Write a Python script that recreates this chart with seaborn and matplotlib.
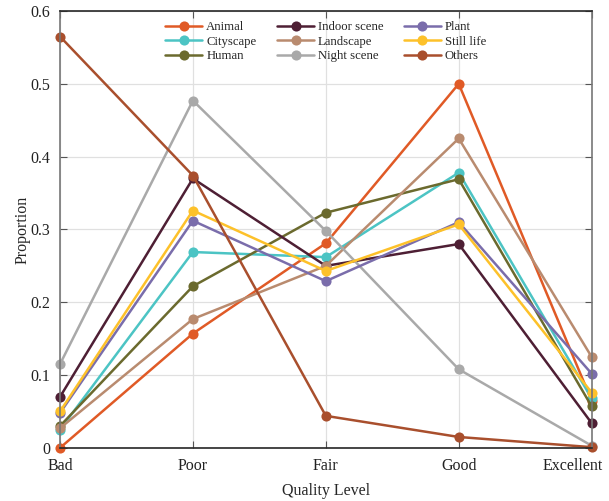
import numpy as np
import pandas as pd
import matplotlib
matplotlib.use("Agg")
import matplotlib.pyplot as plt
import matplotlib.transforms as mtransforms
import seaborn as sns

levels = ["Bad", "Poor", "Fair", "Good", "Excellent"]
categories = ["Animal", "Cityscape", "Human", "Indoor scene", "Landscape",
              "Night scene", "Plant", "Still life", "Others"]
animal    = [0.000, 0.157, 0.281, 0.500, 0.065]
cityscape = [0.025, 0.269, 0.262, 0.378, 0.068]
human     = [0.030, 0.222, 0.323, 0.369, 0.057]
indoor    = [0.070, 0.370, 0.250, 0.280, 0.034]
landscape = [0.027, 0.177, 0.250, 0.425, 0.125]
night     = [0.115, 0.477, 0.298, 0.108, 0.003]
plant     = [0.048, 0.312, 0.229, 0.310, 0.102]
still     = [0.050, 0.326, 0.243, 0.307, 0.076]
others    = [0.565, 0.374, 0.044, 0.015, 0.001]
series = [animal, cityscape, human, indoor, landscape, night, plant, still, others]
colors = ["#E05A26", "#4CC4C4", "#6B6A2E", "#4E1F34", "#B98B6F",
          "#A9A9A9", "#7A6DAB", "#FDC12A", "#A94F2D"]
yticks = [0, 0.1, 0.2, 0.3, 0.4, 0.5, 0.6]
ytick_labels = ["0", "0.1", "0.2", "0.3", "0.4", "0.5", "0.6"]

rows = []
for cat, vals in zip(categories, series):
    for i, (lv, v) in enumerate(zip(levels, vals)):
        rows.append({"Category": cat, "pos": i, "Proportion": v})
df = pd.DataFrame(rows)

sns.set_theme(style="white")
plt.rcParams["font.family"] = ["Liberation Serif", "DejaVu Serif"]

fig = plt.figure(figsize=(6.09, 5.01), dpi=100)
ax = fig.add_axes([0.0985, 0.106, 0.873, 0.872])

ax.grid(True, color="#e0e0e0", linewidth=0.9, zorder=0)
ax.set_axisbelow(True)

sns.lineplot(data=df, x="pos", y="Proportion", hue="Category",
             hue_order=categories, palette=colors, marker="o",
             markersize=7.3, markeredgewidth=0, linewidth=1.8,
             ax=ax, legend=True, zorder=3)

ax.set_xlim(0, 4)
ax.set_ylim(0, 0.6)
ax.set_xticks(range(len(levels)))
ax.set_xticklabels(levels, fontsize=11.5)
ax.set_yticks(yticks)
ax.set_yticklabels(ytick_labels, fontsize=11.5)
ax.set_xlabel("Quality Level", fontsize=11.5, labelpad=7)
ax.set_ylabel("Proportion", fontsize=11.5, labelpad=0)
ax.tick_params(direction="in", length=5, width=0.8, top=True, right=True,
               bottom=True, left=True, colors="#555555", labelcolor="#222222")
ax.tick_params(axis="x", pad=7)
ax.tick_params(axis="y", pad=7)
for s in ["left", "right"]:
    ax.spines[s].set_color("#777777")
    ax.spines[s].set_linewidth(1.2)
for s in ["top", "bottom"]:
    ax.spines[s].set_color("#262626")
    ax.spines[s].set_linewidth(1.2)
for s in ax.spines.values():
    s.set_zorder(5)

# keep the last tick label inside the canvas
last = ax.get_xticklabels()[-1]
last.set_transform(last.get_transform() +
                   mtransforms.ScaledTranslation(-19 / 100, 0, fig.dpi_scale_trans))

for line in ax.lines:
    line.set_clip_on(False)

handles, labels = ax.get_legend_handles_labels()
ax.legend(handles, labels, ncol=3, loc="upper center", bbox_to_anchor=(0.5, 1.0),
          frameon=False, fontsize=9.2, handlelength=2.9, columnspacing=1.6,
          labelspacing=0.2, handletextpad=0.3, borderaxespad=0.4)

fig.savefig("out.png", dpi=100)
